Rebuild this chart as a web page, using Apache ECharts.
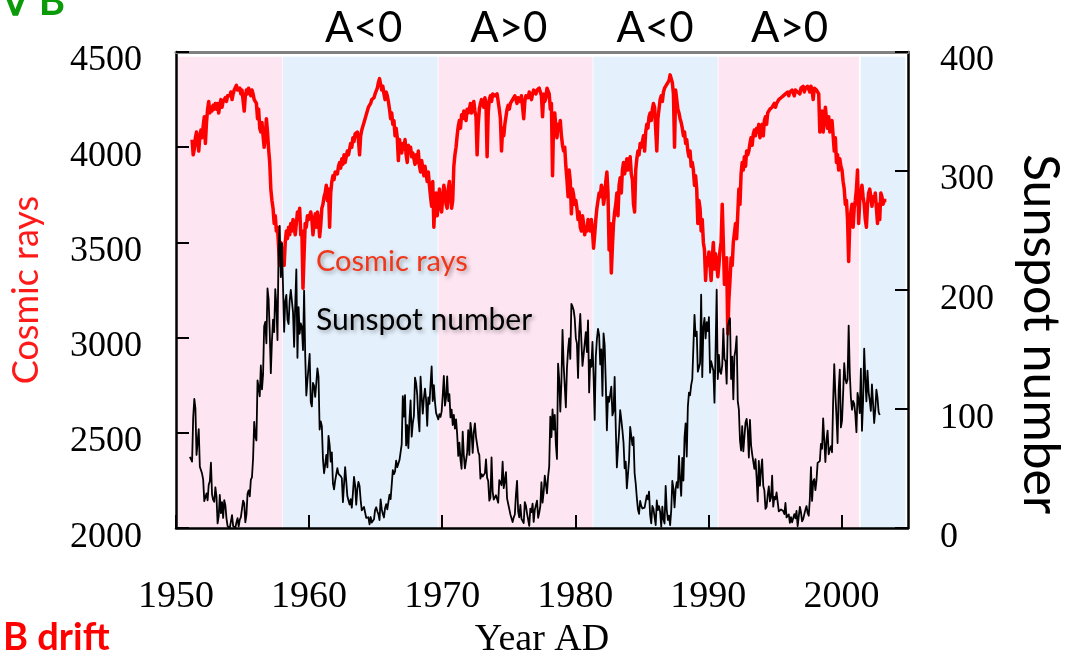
<!DOCTYPE html>
<html>
<head>
<meta charset="utf-8">
<script src="https://cdn.jsdelivr.net/npm/echarts@6/dist/echarts.min.js"></script>
<style>
  html, body { margin: 0; padding: 0; background: #ffffff; }
  #chart { width: 1079px; height: 664px; }
</style>
</head>
<body>
<div id="chart"></div>
<script>
// Monthly sunspot number, starting January 1951
const sunspotStart = 1951;
const sunspotMonthly = [
  59.9,59.9,55.9,92.9,108.5,100.6,61.5,61.0,83.1,51.6,52.4,45.8,
  40.7,22.7,22.0,29.1,23.4,36.4,39.3,54.9,28.2,23.8,22.1,34.3,
  26.5,3.9,10.0,27.8,12.5,21.8,8.6,23.5,19.3,8.2,1.6,2.5,
  0.2,0.5,10.9,1.8,0.8,0.2,4.8,8.4,1.5,7.0,9.2,7.6,
  23.1,20.8,4.9,11.3,28.9,31.7,26.7,40.7,42.7,58.5,89.2,76.9,
  73.6,124.0,118.4,110.7,136.6,116.6,129.1,169.6,173.2,155.3,201.3,192.1,
  165.0,130.2,157.4,175.2,164.6,200.7,187.2,158.0,235.8,253.8,210.9,239.4,
  202.5,164.9,190.7,196.0,175.3,171.5,191.4,200.2,201.2,181.5,152.3,187.6,
  217.4,143.1,185.7,163.3,172.0,168.7,149.6,199.6,145.2,111.4,124.0,125.0,
  146.3,106.0,102.2,122.0,119.6,110.2,121.7,134.1,127.2,82.8,89.6,85.6,
  57.9,46.1,53.0,61.4,51.0,77.4,70.2,55.8,63.6,37.7,32.6,39.9,
  38.7,50.3,45.6,46.4,43.7,42.0,21.8,21.8,51.3,39.5,26.9,23.2,
  19.8,24.4,17.1,29.3,43.0,35.9,19.6,33.2,38.8,35.3,23.4,14.9,
  15.3,17.7,16.5,8.6,9.5,9.1,3.1,9.3,4.7,6.1,7.4,15.1,
  17.5,14.2,11.7,6.8,24.1,15.9,11.9,8.9,16.8,20.1,15.8,17.0,
  28.2,24.4,25.3,48.7,45.3,47.7,56.7,51.2,50.2,57.2,57.2,70.4,
  110.9,93.6,111.8,69.5,86.5,67.3,91.5,107.2,76.8,88.2,94.3,126.4,
  121.8,111.9,92.2,81.2,127.2,110.3,96.1,109.3,117.2,107.7,86.0,109.8,
  104.4,120.5,135.8,106.8,120.0,106.0,96.8,98.0,91.3,95.7,93.5,97.9,
  111.5,127.8,102.9,109.5,127.5,106.8,112.5,93.0,99.5,86.6,95.2,83.5,
  91.3,79.0,60.7,71.8,57.5,49.8,81.0,61.4,50.2,51.7,63.2,82.2,
  61.5,88.4,80.1,63.2,80.5,88.0,76.5,76.8,64.0,61.3,41.6,45.3,
  43.4,42.9,46.0,57.7,42.4,39.5,23.1,25.6,59.3,30.7,23.9,23.3,
  27.6,26.0,21.3,40.3,39.5,36.0,55.8,33.6,40.2,47.1,25.0,20.5,
  18.9,11.5,11.5,5.1,9.0,11.4,28.2,39.7,13.9,9.1,19.4,7.8,
  8.1,4.3,21.9,18.8,12.4,12.2,1.9,16.4,13.5,20.6,5.2,15.3,
  16.4,23.1,8.7,12.9,18.6,38.5,21.4,30.1,44.0,43.8,29.1,43.2,
  51.9,93.6,76.5,99.7,82.7,95.1,70.4,58.1,138.2,125.1,97.9,122.7,
  166.6,137.5,138.0,101.5,134.4,149.5,159.4,142.2,188.4,186.2,183.3,176.3,
  159.6,155.0,126.2,164.1,179.9,157.3,136.3,135.4,155.0,164.7,147.9,174.4,
  114.0,141.3,135.5,156.4,127.5,90.9,143.8,158.7,167.3,162.4,137.5,150.1,
  111.2,163.6,153.8,122.0,82.2,110.4,106.1,107.6,118.8,94.7,98.1,127.0,
  84.3,51.0,66.5,80.7,99.2,91.1,82.2,71.8,50.3,55.8,33.3,33.4,
  57.0,85.1,83.5,69.7,76.4,46.1,37.4,25.5,15.7,12.0,22.8,18.7,
  16.5,15.9,17.2,16.2,27.5,24.2,30.7,11.1,3.9,18.6,16.2,17.3,
  2.5,23.2,15.1,18.5,13.7,1.1,18.1,7.4,3.8,35.4,15.2,6.8,
  10.4,2.4,14.7,39.6,33.0,17.4,33.0,38.7,33.9,60.6,39.9,27.1,
  59.0,40.0,76.2,88.0,60.1,101.8,113.8,111.6,120.1,125.1,125.1,179.2,
  161.3,165.1,131.4,130.6,138.5,196.2,126.9,168.9,176.7,159.4,173.0,165.5,
  177.3,130.5,140.3,140.3,132.2,105.4,149.4,200.3,125.2,145.5,131.4,129.7,
  136.9,167.5,141.9,140.0,121.3,169.7,173.7,176.3,125.3,144.1,108.2,144.4,
  150.0,161.1,106.7,99.8,73.8,65.2,85.7,64.5,63.9,88.7,91.8,82.6,
  59.3,91.0,69.8,62.2,61.3,49.8,57.9,42.3,22.4,56.4,35.6,48.9,
  57.8,35.5,31.7,16.1,17.8,28.0,35.1,22.5,25.7,44.0,18.0,26.2,
  24.2,29.9,31.1,14.0,14.5,15.6,14.5,14.3,11.8,21.1,9.0,10.0,
  11.5,4.4,9.2,4.8,5.5,11.8,8.2,14.4,1.6,0.9,17.9,13.3,
  5.7,7.6,8.7,15.5,18.5,12.7,10.4,24.4,51.3,22.8,39.0,41.2,
  31.9,40.3,54.8,53.4,56.3,70.7,66.6,92.2,92.9,55.5,74.0,81.9,
  62.0,66.3,68.8,63.7,106.4,137.7,113.5,93.7,71.5,116.7,133.2,84.6,
  90.1,112.9,138.5,125.5,121.6,124.9,170.1,130.5,109.7,99.4,106.8,104.4,
  95.6,80.6,113.5,107.7,96.6,134.0,81.8,106.4,150.7,125.5,106.5,132.2,
  114.1,107.4,98.4,120.7,120.8,88.3,99.6,116.4,109.6,97.5,95.0
];

// Monthly cosmic-ray (neutron monitor) counts, starting March 1951
const cosmicStart = 1951 + 2 / 12;
const cosmicRayMonthly = [
  4040,3960,3990,4050,4080,4030,3980,4060,4090,4050,
  4110,4160,4020,4130,4200,4240,4180,4210,4190,4220,4200,4230,
  4200,4230,4180,4220,4250,4210,4240,4230,4260,4240,4270,4260,
  4270,4290,4250,4280,4300,4310,4325,4300,4290,4310,4280,4300,
  4290,4190,4270,4300,4280,4310,4290,4270,4300,4280,4250,4260,
  4230,4150,4200,4100,4080,4130,4060,4000,4050,4150,4080,3990,
  3920,3780,3720,3680,3600,3640,3560,3580,3480,3380,3500,3460,
  3420,3380,3500,3560,3520,3580,3540,3600,3560,3620,3580,3540,
  3600,3660,3620,3680,3540,3560,3260,3440,3600,3580,3640,3620,
  3640,3660,3620,3540,3600,3650,3580,3660,3620,3530,3590,3680,
  3700,3740,3760,3800,3720,3780,3580,3760,3820,3850,3830,3870,
  3880,3860,3900,3920,3890,3940,3910,3960,3920,3950,3980,3960,
  3990,4020,4000,4050,4030,4070,4060,4080,4040,3960,4060,4090,
  4110,4130,4150,4170,4190,4210,4200,4230,4250,4240,4260,4280,
  4290,4310,4340,4360,4330,4300,4320,4280,4250,4290,4270,4240,
  4200,4150,4180,4120,4140,4060,4100,4050,3930,4040,4000,3970,
  4020,3990,4040,3960,3920,4010,3980,4000,3950,3970,3940,3910,
  3960,3920,3980,3900,3870,3930,3890,3850,3900,3860,3820,3870,
  3800,3740,3690,3820,3580,3720,3760,3640,3690,3780,3700,3660,
  3740,3800,3760,3700,3680,3780,3820,3740,3680,3720,3900,3960,
  4000,4060,4110,4140,4100,4170,4150,4190,4180,4140,4200,4180,
  4200,4230,4180,4220,4240,4190,4160,3960,4120,4200,4230,4250,
  4240,4210,4260,4230,3950,4180,4250,4270,4240,4280,4290,4270,
  4260,4280,4240,4200,4150,3980,4100,4060,4120,4160,4200,4220,
  4200,4230,4220,4250,4240,4270,4250,4230,4260,4250,4240,4270,
  4260,4150,4240,4270,4280,4260,4290,4270,4250,4280,4300,4290,
  4280,4300,4290,4310,4290,4270,4160,4280,4240,4260,4310,4300,
  4280,4200,4230,3850,4150,4180,4100,4050,4120,4090,4140,4060,
  4010,3980,4000,3900,3830,3740,3880,3820,3650,3780,3750,3700,
  3720,3680,3620,3660,3580,3560,3640,3600,3540,3580,3560,3620,
  3600,3560,3620,3560,3470,3540,3620,3680,3720,3760,3740,3800,
  3780,3700,3740,3820,3870,3760,3460,3600,3340,3480,3600,3660,
  3700,3760,3640,3800,3840,3760,3880,3920,3860,3900,3940,3880,
  3920,3950,3860,3830,3700,3660,3880,3940,3980,3960,4020,4000,
  4030,4060,3980,4080,4120,4100,4160,4180,4140,4200,4230,4210,
  4220,3980,4150,4200,4250,4270,4240,4290,4310,4300,4330,4340,
  4350,4380,4390,4340,4280,4000,4300,4250,4200,4180,4150,4130,
  4100,4060,4080,4020,4040,3980,3950,3980,3900,3920,3880,3800,
  3850,3780,3600,3720,3680,3560,3620,3500,3460,3300,3420,3380,
  3450,3380,3300,3420,3500,3360,3440,3400,3320,3380,3460,3500,
  3700,3500,3280,3350,3420,3020,3200,3300,3420,3380,3500,3550,
  3600,3520,3650,3780,3700,3860,3920,3880,3950,3900,3980,3960,
  3980,4020,4050,4010,4070,4090,4060,4100,4080,4120,4050,4100,
  4120,4060,4140,4160,4120,4180,4170,4200,4190,4210,4200,4230,
  4210,4230,4220,4250,4240,4260,4250,4270,4260,4280,4270,4290,
  4270,4290,4280,4300,4290,4270,4300,4310,4290,4300,4280,4310,
  4300,4320,4290,4310,4300,4320,4310,4290,4320,4300,4250,4310,
  4320,4300,4310,4280,4080,4150,4190,4080,4140,4210,4150,4100,
  4160,4080,4120,4140,4060,3980,4050,3920,3960,3880,3940,3900,
  3880,3820,3780,3700,3720,3620,3400,3600,3660,3700,3580,3680,
  3720,3780,3880,3600,3720,3760,3800,3740,3700,3620,3580,3700,
  3760,3780,3740,3690,3740,3720,3760,3680,3600,3700,3620,3760,
  3740,3700,3720,3730,3720
];

// Axis ticks
const yearTicks = [1950, 1960, 1970, 1980, 1990, 2000];
const cosmicTicks = [2000, 2500, 3000, 3500, 4000, 4500];
const sunspotTicks = [0, 100, 200, 300, 400];

// Solar magnetic polarity epochs (pink: A>0, blue: A<0)
const polarityBands = [
  { from: 1950.0,  to: 1957.98, polarity: 'A>0' },
  { from: 1958.03, to: 1969.66, polarity: 'A<0' },
  { from: 1969.72, to: 1981.3,  polarity: 'A>0' },
  { from: 1981.36, to: 1990.7,  polarity: 'A<0' },
  { from: 1990.76, to: 2001.32, polarity: 'A>0' },
  { from: 2001.45, to: 2004.8,  polarity: 'A<0' }
];
const polarityLabels = [
  { year: 1964.1, text: 'A<0' },
  { year: 1975.0, text: 'A>0' },
  { year: 1986.0, text: 'A<0' },
  { year: 1996.1, text: 'A>0' }
];

const bandColor = { 'A>0': '#fde5f1', 'A<0': '#e4f0fc' };
const SERIF = '"Liberation Serif", "Times New Roman", serif';
const SANS = 'Lato, "Noto Sans", sans-serif';

function monthly(start, values) {
  return values.map((v, i) => [start + (i + 0.5) / 12, v]);
}

const chart = echarts.init(document.getElementById('chart'), null, { renderer: 'canvas' });

// Value labels sit a little below their tick marks
const valueLabel = margin => ({
  margin: margin, fontFamily: SERIF, fontSize: 36, color: '#000',
  verticalAlign: 'top', lineHeight: 18,
  formatter: v => String(v)
});

const option = {
  animation: false,
  backgroundColor: '#ffffff',
  grid: { left: 172, right: 171, top: 52, bottom: 129, containLabel: false },
  xAxis: [
    {
      type: 'value', min: 1950, max: 2005, interval: 10, z: 10,
      axisLine: { show: true, lineStyle: { color: '#000', width: 2.5 } },
      axisTick: { show: true, inside: true, length: 13, lineStyle: { color: '#000', width: 2 } },
      axisLabel: {
        show: true, margin: 50, showMaxLabel: false,
        fontFamily: SERIF, fontSize: 38, color: '#000',
        formatter: v => (yearTicks.indexOf(v) >= 0 ? String(v) : '')
      },
      splitLine: { show: false },
      name: 'Year AD', nameLocation: 'middle', nameGap: 87,
      nameTextStyle: { fontFamily: SERIF, fontSize: 38, color: '#000' }
    },
    {
      type: 'value', min: 1950, max: 2005, position: 'top', z: 10,
      axisLine: { show: true, lineStyle: { color: '#808080', width: 3 } },
      axisTick: { show: false }, axisLabel: { show: false }, splitLine: { show: false }
    }
  ],
  yAxis: [
    {
      type: 'value', min: cosmicTicks[0], max: cosmicTicks[cosmicTicks.length - 1], interval: 500, z: 10,
      position: 'left',
      axisLine: { show: true, lineStyle: { color: '#000', width: 2.5 } },
      axisTick: { show: true, inside: true, length: 13, lineStyle: { color: '#000', width: 2 } },
      axisLabel: valueLabel(34),
      splitLine: { show: false },
      name: 'Cosmic rays', nameLocation: 'middle', nameGap: 132,
      nameTextStyle: { fontFamily: SANS, fontSize: 36, color: '#ff1a1a' }
    },
    {
      type: 'value', min: sunspotTicks[0], max: sunspotTicks[sunspotTicks.length - 1], interval: 100, z: 10,
      position: 'right',
      axisLine: { show: true, lineStyle: { color: '#000', width: 2.5 } },
      axisTick: { show: true, inside: true, length: 13, lineStyle: { color: '#000', width: 2 } },
      axisLabel: valueLabel(32),
      splitLine: { show: false }
    }
  ],
  series: [
    {
      name: 'polarity', type: 'line', data: [], z: 1, silent: true,
      markArea: {
        silent: true,
        data: polarityBands.map(b => [
          { xAxis: b.from, yAxis: 2000, itemStyle: { color: bandColor[b.polarity] } },
          { xAxis: b.to, yAxis: 4475 }
        ])
      }
    },
    {
      name: 'Cosmic rays', type: 'line', xAxisIndex: 0, yAxisIndex: 0, z: 3,
      data: monthly(cosmicStart, cosmicRayMonthly),
      showSymbol: false, symbol: 'none',
      lineStyle: { color: '#ff0000', width: 3.5, join: 'round' }
    },
    {
      name: 'Sunspot number', type: 'line', xAxisIndex: 0, yAxisIndex: 1, z: 4,
      data: monthly(sunspotStart, sunspotMonthly),
      showSymbol: false, symbol: 'none',
      lineStyle: { color: '#000000', width: 1.8, join: 'round' }
    }
  ]
};

chart.setOption(option);

// Text annotations
const polarityText = polarityLabels.map(p => ({
  type: 'text',
  x: chart.convertToPixel({ xAxisIndex: 0 }, p.year),
  y: 28,
  style: { text: p.text, fontFamily: SANS, fontSize: 42, fill: '#000', align: 'center', verticalAlign: 'middle' }
}));

chart.setOption({
  graphic: polarityText.concat([
    {
      type: 'text', x: 2, y: 2,
      style: { text: '\u2207 B', fontFamily: SANS, fontWeight: 'bold', fontSize: 40, fill: '#0a9a0a', align: 'left', verticalAlign: 'middle' }
    },
    {
      type: 'text', x: 3, y: 638,
      style: { text: 'B drift', fontFamily: SANS, fontWeight: 'bold', fontSize: 38, fill: '#ff0000', align: 'left', verticalAlign: 'middle' }
    },
    {
      type: 'text', x: 316, y: 262, z: 20,
      style: {
        text: 'Cosmic rays', fontFamily: SANS, fontSize: 29, fill: '#f2361a', align: 'left', verticalAlign: 'middle',
        textShadowColor: 'rgba(0,0,0,0.35)', textShadowBlur: 4, textShadowOffsetX: 2, textShadowOffsetY: 2
      }
    },
    {
      type: 'text', x: 316, y: 320, z: 20,
      style: {
        text: 'Sunspot number', fontFamily: SANS, fontSize: 30, fill: '#000', align: 'left', verticalAlign: 'middle',
        textShadowColor: 'rgba(0,0,0,0.35)', textShadowBlur: 4, textShadowOffsetX: 2, textShadowOffsetY: 2
      }
    },
    {
      type: 'text', x: 1040, y: 334, rotation: -Math.PI / 2,
      style: { text: 'Sunspot number', fontFamily: SANS, fontSize: 50, fill: '#000', align: 'center', verticalAlign: 'middle' }
    }
  ])
});
</script>
</body>
</html>
